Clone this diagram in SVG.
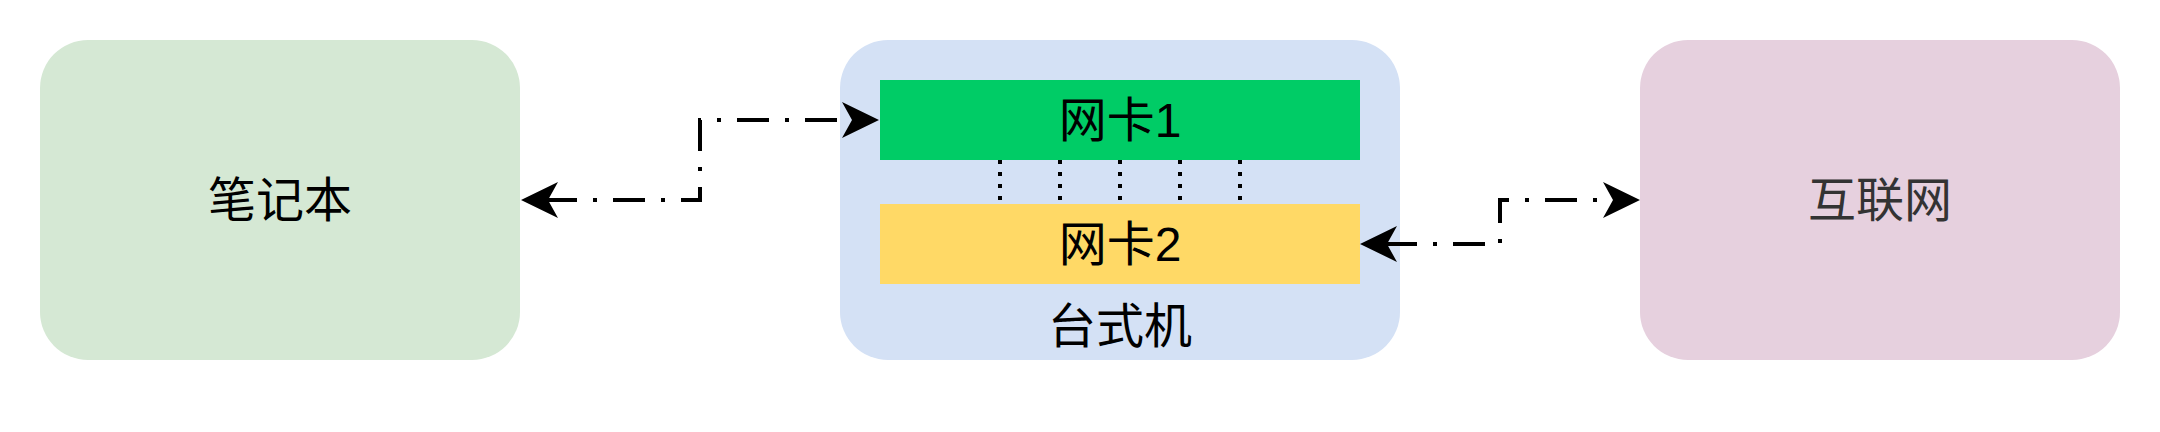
<svg xmlns="http://www.w3.org/2000/svg" width="2160" height="432" viewBox="0 0 2160 432">
<style>
text{font-family:"Liberation Sans","Noto Sans CJK SC",sans-serif;font-size:48px;text-anchor:middle;fill:#000}
.conn{fill:none;stroke:#000;stroke-width:4;stroke-dasharray:32 16 4 16}
.bus{fill:none;stroke:#000;stroke-width:4;stroke-dasharray:4 8}
</style>
<defs>
<marker id="arr" markerUnits="userSpaceOnUse" viewBox="0 -18 37 36" markerWidth="37" markerHeight="36" refX="10" refY="0" orient="auto-start-reverse">
<path d="M37,0 L0,-18 L10,0 L0,18 Z" fill="#000"/>
</marker>
</defs>
<rect width="2160" height="432" fill="#fff"/>
<g id="laptop">
<rect x="40" y="40" width="480" height="320" rx="48" fill="#d5e8d4"/>
<text x="280" y="217">笔记本</text>
</g>
<g id="desktop">
<rect x="840" y="40" width="560" height="320" rx="48" fill="#d4e1f5"/>
<text x="1120" y="343">台式机</text>
</g>
<g id="nic1">
<rect x="880" y="80" width="480" height="80" fill="#00cc66"/>
<text x="1120" y="137">网卡1</text>
</g>
<g id="nic2">
<rect x="880" y="204" width="480" height="80" fill="#ffd966"/>
<text x="1120" y="261">网卡2</text>
</g>
<g id="internet">
<rect x="1640" y="40" width="480" height="320" rx="48" fill="#e6d0de"/>
<text x="1880" y="217" style="fill:#333333">互联网</text>
</g>
<g id="connectors">
<path class="conn" d="M548,200 H700 V120 H852" stroke-dashoffset="3" marker-start="url(#arr)" marker-end="url(#arr)"/>
<path class="conn" d="M1387,244 H1500 V200 H1613" stroke-dashoffset="2" marker-start="url(#arr)" marker-end="url(#arr)"/>
<path class="bus" d="M1000,160 V204 M1060,160 V204 M1120,160 V204 M1180,160 V204 M1240,160 V204"/>
</g>
</svg>
